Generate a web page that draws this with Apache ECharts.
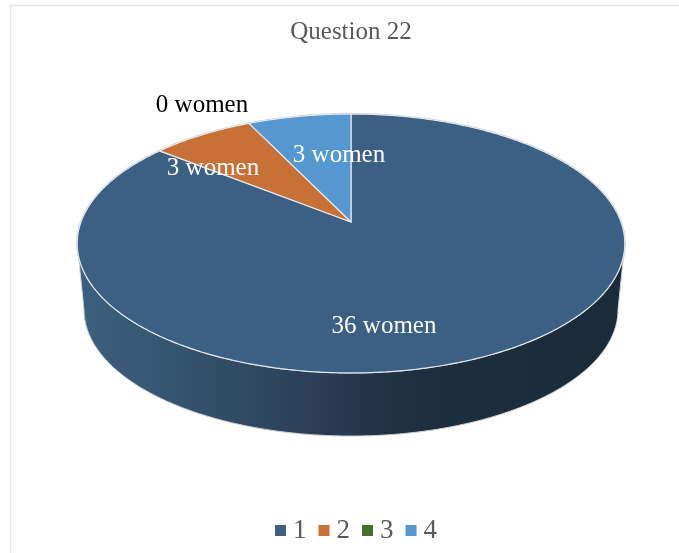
<!DOCTYPE html>
<html>
<head>
<meta charset="utf-8">
<style>html,body{margin:0;padding:0;background:#fff}#c{width:679px;height:553px}</style>
<script src="https://cdn.jsdelivr.net/npm/echarts@6/dist/echarts.min.js"></script>
</head>
<body>
<div id="c"></div>
<script>
const titleText = 'Question 22';
const categories = ['1', '2', '3', '4'];
const womenCounts = [36, 3, 0, 3];
const unitLabel = 'women';

const sliceColors = ['#3b6083', '#c87137', '#42702f', '#5597cf'];
const labelColors = ['#ffffff', '#ffffff', '#000000', '#ffffff'];
const labelCentres = [[384, 326], [213, 168], [202, 105], [339, 155]];
const wallStops = [
  [0, '#3c5f7f'], [0.12, '#375873'], [0.3, '#2f4a62'], [0.45, '#2a3d55'],
  [0.58, '#1f3142'], [0.75, '#1c2d3c'], [1, '#1a2b39']
];
const FONT = '"Liberation Serif","Times New Roman",serif';

// perspective projection of the pie's unit disc onto the page
const top3d = { cx: 351, cy: 222, a: 270, b: 125.9, k: 0.166 };
const bottom3d = { cx: 351, cy: 288.8, a: 263.3, b: 122.8, k: 0.166 };
function project(p, angle) {
  const u = Math.sin(angle), v = Math.cos(angle), w = 1 + p.k * v;
  return [p.cx + p.a * u / w, p.cy - p.b * v / w];
}
function arc(p, from, to) {
  const n = Math.max(2, Math.ceil(Math.abs(to - from) / 0.01));
  const pts = [];
  for (let i = 0; i <= n; i++) pts.push(project(p, from + (to - from) * i / n));
  return pts;
}

const total = womenCounts.reduce((s, v) => s + v, 0);
const TAU = Math.PI * 2;
const frontStart = Math.acos(-top3d.k), frontEnd = TAU - frontStart;

function makeRender(idx) {
  const before = womenCounts.slice(0, idx).reduce((s, v) => s + v, 0);
  return function (params, api) {
    const value = api.value(0);
    const start = before / total * TAU, end = (before + value) / total * TAU;
    const children = [];
    if (idx === 0) {
      // faint outline behind the whole disc
      children.push({ type: 'polygon', shape: { points: arc(top3d, 0, TAU) },
        style: { fill: 'none', stroke: '#c9cdd1', lineWidth: 2 } });
    }
    const ws = Math.max(start, frontStart), we = Math.min(end, frontEnd);
    if (value > 0 && we > ws) {
      const pts = arc(top3d, ws, we).concat(arc(bottom3d, we, ws));
      children.push({ type: 'polygon', shape: { points: pts },
        style: {
          fill: new echarts.graphic.LinearGradient(83, 0, 617, 0,
            wallStops.map(s => ({ offset: s[0], color: s[1] })), true),
          stroke: '#cfd2d5', lineWidth: 1
        } });
    }
    if (value > 0) {
      const pts = [[top3d.cx, top3d.cy]].concat(arc(top3d, start, end));
      children.push({ type: 'polygon', shape: { points: pts },
        style: { fill: sliceColors[idx], stroke: '#e4e9ee', lineWidth: 1.2, lineJoin: 'round' } });
    }
    children.push({ type: 'text', z2: 100, x: labelCentres[idx][0], y: labelCentres[idx][1],
      style: { text: value + ' ' + unitLabel, fill: labelColors[idx], font: '25px ' + FONT,
        align: 'center', verticalAlign: 'middle' } });
    return { type: 'group', children };
  };
}

const chart = echarts.init(document.getElementById('c'), null, { renderer: 'canvas' });
chart.setOption({
  animation: false,
  backgroundColor: '#ffffff',
  title: { text: titleText, left: 346, top: 15, textAlign: 'center',
    textStyle: { fontFamily: FONT, fontSize: 25, fontWeight: 'normal', color: '#595959' } },
  legend: { data: categories, left: 270, top: 512, icon: 'rect', itemWidth: 11, itemHeight: 11,
    itemGap: 12, itemStyle: { borderWidth: 0 },
    textStyle: { fontFamily: FONT, fontSize: 27, color: '#595959', padding: [4, 0, 0, 2] } },
  graphic: [
    { type: 'line', shape: { x1: 10.5, y1: 5, x2: 10.5, y2: 553 }, style: { stroke: '#e3e3e3', lineWidth: 1.5 } },
    { type: 'line', shape: { x1: 10, y1: 5.5, x2: 679, y2: 5.5 }, style: { stroke: '#e3e3e3', lineWidth: 1.5 } }
  ],
  series: categories.map((name, i) => ({
    type: 'custom', name, coordinateSystem: 'none',
    itemStyle: { color: sliceColors[i] },
    renderItem: makeRender(i),
    data: [[womenCounts[i]]],
    silent: true
  }))
});
</script>
</body>
</html>
